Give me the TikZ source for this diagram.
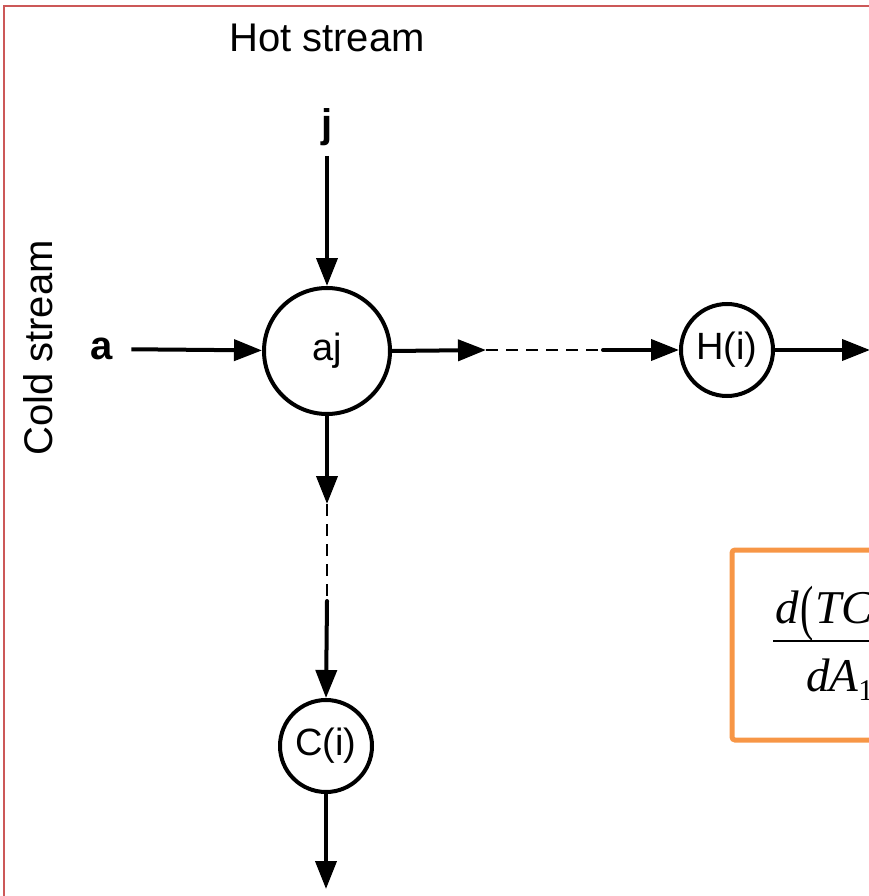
\documentclass[tikz,border=0pt]{standalone}
\usepackage{fontspec}
\setmainfont{Liberation Sans}
\newfontfamily\tms{Liberation Serif}
\usetikzlibrary{arrows.meta}
\definecolor{frame}{RGB}{204,88,88}
\definecolor{boxorange}{RGB}{247,150,70}
\tikzset{
  unit/.style={circle, draw, line width=4pt, inner sep=0pt, font=\fontsize{38}{44}\selectfont},
  flow/.style={line width=4pt, -{Triangle[length=28pt,width=21pt]}},
  link/.style={line width=1.4pt, dash pattern=on 12pt off 8pt},
  lbl/.style={font=\fontsize{40}{46}\selectfont, inner sep=0pt},
  idx/.style={font=\fontsize{40}{46}\selectfont\bfseries, inner sep=0pt},
  eqtext/.style={anchor=base west, inner sep=0pt, font=\tms\itshape\fontsize{47}{52}\selectfont}
}
\begin{document}
\begin{tikzpicture}[x=1pt,y=-1pt]
\useasboundingbox (0,0) rectangle (869,896);
\begin{scope}
\clip (0,0) rectangle (869,896);
% outer frame
\draw[frame, line width=1.5pt] (4,920) -- (4,6) -- (900,6);

% stream labels
\node[lbl] (hot) at (327,38) {Hot stream};
\node[lbl, rotate=90] (cold) at (38,348) {Cold stream};
\node[idx] (j) at (327,127) {j};
\node[idx] (a) at (102,349) {a};

% exchanger units
\node[unit, minimum size=126pt] (aj) at (327,351) {aj};
\node[unit, minimum size=92pt] (H) at (727,350) {H(i)};
\node[unit, minimum size=92pt] (C) at (326,746) {C(i)};

% junction points of the omitted sections
\coordinate (h1) at (486,350);
\coordinate (h2) at (603,350);
\coordinate (v1) at (327,504);
\coordinate (v2) at (327,601);
\coordinate (hout) at (870,350);
\coordinate (cout) at (326,889);

% hot stream j and cold stream a entering aj
\draw[flow, shorten <=10pt] (j) -- (aj);
\draw[flow, shorten <=18pt] (a) -- (aj);

% hot side: aj -> ... -> H(i)
\draw[flow] (aj.east) -- (h1);
\draw[link] (h1) -- (h2);
\draw[flow, line cap=round] (h2) -- (H.west);
\draw[flow] (H.east) -- (hout);

% cold side: aj -> ... -> C(i)
\draw[flow] (aj.south) -- (v1);
\draw[link] (v1) -- (v2);
\draw[flow, line cap=round] (v2) -- (C.north);
\draw[flow] (C.south) -- (cout);

% derivative box
\draw[boxorange, line width=5pt, rounded corners=3pt] (732,550) rectangle (960,740);
\node[eqtext] (num) at (775,623)
  {d\hspace{2pt}{\upshape\raisebox{-5pt}{\scalebox{0.85}[1.3]{(}}}\hspace{1pt}TC};
\coordinate (barL) at (773,641);
\coordinate (barR) at (900,641);
\draw[line width=2.2pt] (barL) -- (barR);
\node[eqtext] (den) at (806,691)
  {dA\raisebox{-9pt}{\upshape\fontsize{30}{32}\selectfont 1}};
\end{scope}
\end{tikzpicture}
\end{document}
